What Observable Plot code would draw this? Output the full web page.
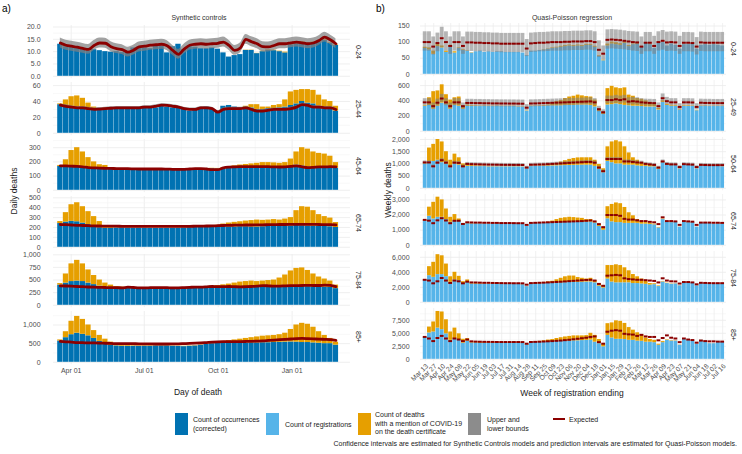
<!DOCTYPE html>
<html><head><meta charset="utf-8">
<script src="https://cdn.jsdelivr.net/npm/d3@7"></script>
<script src="https://cdn.jsdelivr.net/npm/@observablehq/plot@0.6"></script>
<style>
body{margin:0;background:#fff;font-family:"Liberation Sans",Arial,sans-serif;}
#fig{position:relative;width:742px;height:454px;overflow:hidden;background:#fff;}
.t{position:absolute;white-space:nowrap;color:#1a1a1a;}
.sw{position:absolute;}
</style></head><body><div id="fig"></div>
<script>
// ---------- LEFT: Synthetic controls (weekly blocks of daily deaths, from 15 Mar 2020) ----------
const L024occ=[13.0,12.0,11.8,11.5,11.0,10.2,10.8,10.4,10.0,9.8,10.0,9.6,9.4,11.5,11.8,11.5,11.2,12.5,12.2,9.5,12.0,13.0,10.8,12.0,11.8,11.2,11.2,11.5,11.0,9.5,7.8,8.4,8.8,10.5,10.5,9.2,10.0,10.6,10.4,10.0,9.5,12.8,13.2,13.5,13.0,13.5,14.0,14.6,13.5,12.5];
const L024cov=[0,0.2,0.3,0.3,0.2,0.1,0,0,0,0,0,0,0,0,0,0,0,0,0,0,0,0,0,0,0,0,0,0,0,0,0,0,0,0.1,0.1,0.1,0.2,0.2,0.2,0.2,0.3,0.4,0.5,0.5,0.5,0.4,0.4,0.3,0.2,0.2];
const L024exp=[13.5,12.6,12.2,11.8,11.3,10.9,12.5,13.5,13.4,12.0,11.2,10.8,9.8,10.6,11.9,12.2,12.6,12.8,13.0,12.4,10.5,8.9,11.0,12.6,13.0,13.2,13.0,13.2,13.4,13.9,12.5,10.5,11.5,15.0,14.0,13.2,12.0,11.9,12.5,13.2,13.2,13.6,13.9,13.6,13.2,13.5,14.5,15.9,14.8,13.2];
const L024lo=[11.5,10.6,10.2,9.8,9.3,8.9,10.5,11.5,11.4,10.0,9.2,8.8,7.8,8.6,9.9,10.2,10.6,10.8,11.0,10.4,8.5,6.9,9.0,10.6,11.0,11.2,11.0,11.2,11.4,11.9,10.5,8.5,9.5,13.0,12.0,11.2,10.0,9.9,10.5,11.2,11.2,11.6,11.9,11.6,11.2,11.5,12.5,13.9,12.8,11.2];
const L024hi=[15.5,14.6,14.2,13.8,13.3,12.9,14.5,15.5,15.4,14.0,13.2,12.8,11.8,12.6,13.9,14.2,14.6,14.8,15.0,14.4,12.5,10.9,13.0,14.6,15.0,15.2,15.0,15.2,15.4,15.9,14.5,12.5,13.5,17.0,16.0,15.2,14.0,13.9,14.5,15.2,15.2,15.6,15.9,15.6,15.2,15.5,16.5,17.9,16.8,15.2];

const L2544occ=[36,33,32,33,32,31,30,30,31,31,32,32,31,31,32,32,33,32,34,33,32,32,30,28,30,32,33,30,28,34,35,33,32,32,32,30,30,31,31,32,33,35,37,40,38,37,34,33,31,28];
const L2544cov=[1,9,14,14,12,7,3,1,1,0,0,0,0,0,0,0,0,0,0,0,0,0,0,0,0,0,0,0,0,0,0,0,0,2,4,6,3,2,4,4,9,17,17,15,17,17,14,9,9,6];
const L2544exp=[35.5,34,33,32,32,31,30,30.5,31,31.5,32,32,32,32,32,33,33,34,35.5,35,34,33,31,30,30,32,32,31,26.5,30,31,31,31,32,30,28,28,29,30,30,30,31,33,36,35,33,33,32,32,30];
const L2544lo=[33.7,32.2,31.2,30.2,30.2,29.2,28.2,28.7,29.2,29.7,30.2,30.2,30.2,30.2,30.2,31.2,31.2,32.2,33.7,33.2,32.2,31.2,29.2,28.2,28.2,30.2,30.2,29.2,24.7,28.2,29.2,29.2,29.2,30.2,28.2,26.2,26.2,27.2,28.2,28.2,28.2,29.2,31.2,34.2,33.2,31.2,31.2,30.2,30.2,28.2];
const L2544hi=[37.3,35.8,34.8,33.8,33.8,32.8,31.8,32.3,32.8,33.3,33.8,33.8,33.8,33.8,33.8,34.8,34.8,35.8,37.3,36.8,35.8,34.8,32.8,31.8,31.8,33.8,33.8,32.8,28.3,31.8,32.8,32.8,32.8,33.8,31.8,29.8,29.8,30.8,31.8,31.8,31.8,32.8,34.8,37.8,36.8,34.8,34.8,33.8,33.8,31.8];

const L4564occ=[168,170,172,172,168,160,155,150,150,148,146,148,148,148,146,148,148,147,147,145,144,144,145,148,150,148,150,152,150,150,155,156,156,156,158,160,160,158,158,160,162,170,178,172,165,160,158,158,160,155];
const L4564cov=[7,45,108,128,102,70,45,30,25,12,4,2,2,2,2,2,2,2,2,2,2,2,2,2,2,2,2,3,4,8,10,16,22,26,28,30,35,37,35,30,33,50,92,128,125,110,102,97,80,40];
const L4564exp=[172,172,170,168,165,160,158,156,155,154,153,152,152,151,150,150,150,150,150,149,148,147,148,150,152,153,150,145,145,158,163,165,166,166,167,167,167,166,165,164,165,168,172,165,160,162,165,165,166,165];

const L6574occ=[240,255,262,258,245,230,212,198,192,192,195,195,193,192,192,192,190,190,190,190,192,192,195,198,200,200,205,205,208,210,205,205,208,208,205,205,208,210,212,210,212,215,220,218,215,212,210,212,208,200];
const L6574cov=[20,95,168,192,165,130,98,62,23,8,3,3,3,3,3,3,3,3,3,3,3,3,3,3,3,5,5,10,14,25,40,47,50,57,65,70,64,65,68,65,73,85,150,192,190,158,120,98,87,50];
const L6574exp=[230,228,225,222,220,218,216,215,214,213,213,212,212,212,211,211,211,211,211,211,211,211,212,212,213,214,215,216,218,220,222,223,224,225,225,226,227,228,229,230,230,231,232,232,232,231,230,229,228,226];

const L7584occ=[400,440,470,480,470,440,410,380,360,350,345,345,340,340,338,338,335,335,335,338,338,335,340,345,350,352,355,360,365,365,362,360,360,358,355,355,360,360,365,368,370,375,380,375,370,365,362,360,355,330];
const L7584cov=[30,180,350,410,350,260,180,120,80,50,25,15,5,5,5,5,5,5,5,5,5,5,5,5,5,8,15,20,25,40,58,80,100,112,125,115,120,130,135,172,230,305,350,365,320,255,198,160,125,70];
const L7584exp=[385,382,378,372,368,362,358,355,352,350,350,345,358,352,345,345,348,350,350,348,345,345,350,355,360,360,365,372,368,370,372,368,365,368,372,378,390,385,378,380,385,388,390,392,395,392,392,400,395,370];

const L85occ=[570,660,740,780,750,710,640,560,490,450,440,430,430,430,425,430,430,440,440,440,430,425,420,430,440,460,480,500,510,510,505,505,510,515,520,520,525,525,530,535,540,545,540,530,530,520,510,500,500,460];
const L85cov=[30,160,360,450,400,290,210,160,130,90,40,30,20,15,15,15,15,10,10,10,10,10,10,10,10,10,10,20,30,50,75,95,110,125,140,160,175,185,190,205,240,335,460,515,490,420,310,220,140,80];
const L85exp=[560,550,540,530,525,520,518,515,510,505,500,500,500,498,495,495,492,490,490,490,492,495,500,505,512,520,530,540,548,552,552,553,555,558,562,568,575,585,595,605,615,625,635,640,635,628,620,615,608,590];

// ---------- RIGHT: Quasi-Poisson (weekly registrations, week ending 13 Mar 2020 .. 16 Jul 2021) ----------
const weekLabels=["Mar 13","Mar 27","Apr 10","Apr 24","May 08","May 22","Jun 05","Jun 19","Jul 03","Jul 17","Jul 31","Aug 14","Aug 28","Sep 11","Sep 25","Oct 09","Oct 23","Nov 06","Nov 20","Dec 04","Dec 18","Jan 01","Jan 15","Jan 29","Feb 12","Feb 26","Mar 12","Mar 26","Apr 09","Apr 23","May 07","May 21","Jun 04","Jun 18","Jul 02","Jul 16"];

const R024reg=[80,76,62,86,82,68,84,66,80,74,72,66,70,72,68,70,68,70,70,68,68,68,68,66,58,72,72,74,76,78,80,82,84,86,88,86,88,86,90,90,84,56,42,88,94,92,90,96,86,92,94,84,96,92,80,96,98,88,94,90,78,92,92,94,78,90,92,90,92,90,88];
const R024cov=[4,6,10,8,6,4,6,4,2,2,1,1,0,0,0,0,0,0,0,0,0,0,0,0,0,0,0,0,1,1,2,2,3,3,3,3,3,3,3,3,3,2,2,6,6,6,5,4,3,2,2,1,1,1,0,0,0,0,0,0,0,0,0,0,0,0,0,0,0,0,0];
const R024exp=[100,100,86,97,112,100,88,100,100,88,99,99,98,98,97,97,96,96,95,95,95,95,95,95,80,96,97,98,98,99,100,100,100,101,101,102,102,102,103,103,100,76,64,107,108,107,106,104,102,100,99,86,98,98,88,100,104,99,100,99,88,98,98,97,86,99,98,98,98,98,98];
const R024lo=[72,72,60,70,82,72,62,72,72,62,71,71,70,70,69,69,68,68,67,67,67,67,67,67,55,68,69,70,70,71,72,72,72,73,73,74,74,74,75,75,72,52,44,78,79,78,77,76,74,72,71,62,70,70,62,72,75,71,72,71,62,70,70,69,60,71,70,70,70,70,70];
const R024hi=[132,132,116,128,146,132,116,132,132,116,131,131,130,130,129,129,128,128,127,127,127,127,127,127,108,128,129,130,130,131,132,132,132,133,133,134,134,134,135,135,132,104,88,138,139,138,137,135,133,132,131,116,130,130,118,132,136,131,132,131,118,130,130,129,114,131,130,130,130,130,130];

const R2549reg=[330,340,290,330,370,350,290,340,330,290,330,330,325,325,330,325,325,330,325,325,325,325,320,320,265,325,330,330,330,335,335,335,335,340,340,340,345,345,345,340,320,260,220,345,350,360,350,340,335,330,330,325,320,320,320,280,380,340,330,330,280,330,330,330,270,330,330,325,325,325,325];
const R2549cov=[10,100,230,200,240,130,120,100,120,30,15,10,8,5,5,5,4,4,4,4,4,4,4,4,4,5,5,6,8,10,40,55,70,90,110,120,130,120,110,110,90,30,30,215,240,210,210,230,140,130,100,95,80,60,40,20,20,15,12,10,8,8,8,6,5,5,5,4,4,4,4];
const R2549exp=[380,380,330,375,430,380,330,380,380,330,372,372,370,370,368,368,366,366,365,365,364,364,363,362,310,365,366,368,370,372,374,376,378,380,382,384,386,388,390,392,380,290,250,410,410,420,410,420,390,395,390,380,375,372,370,330,434,395,380,380,320,380,380,378,320,375,372,372,370,370,370];
const R2549lo=[335,335,290,330,380,335,290,335,335,290,328,328,326,326,324,324,322,322,321,321,320,320,319,318,272,321,322,324,326,328,330,332,334,336,338,340,342,344,346,348,335,255,220,362,362,370,362,370,344,348,344,335,330,328,326,290,384,348,335,335,282,335,335,333,282,330,328,328,326,326,326];
const R2549hi=[428,428,372,422,484,428,372,428,428,372,420,420,418,418,416,416,414,414,413,413,412,412,411,410,350,413,414,416,418,420,422,424,426,428,430,432,434,436,438,440,428,328,282,462,462,472,462,472,440,445,440,428,422,420,418,372,490,445,428,428,362,428,428,426,362,422,420,420,418,418,418];

const R5064reg=[1000,1100,1100,1150,1050,1000,850,1000,950,850,900,900,890,890,890,880,880,880,880,880,880,880,880,870,800,890,900,900,905,910,915,920,925,930,935,940,945,950,950,950,900,780,640,1100,1050,1000,1000,950,950,950,920,900,900,880,880,780,1050,950,930,950,800,950,950,930,800,920,920,900,900,900,880];
const R5064cov=[30,550,700,850,850,500,300,400,300,150,60,40,30,25,20,15,12,10,10,10,10,10,10,10,8,10,12,15,20,30,60,100,150,200,250,280,300,300,300,300,250,200,160,600,850,950,900,750,500,300,230,150,100,70,50,30,30,20,15,15,10,10,10,10,8,8,8,6,6,6,6];
const R5064exp=[1060,1060,900,1050,1150,1050,900,1050,1040,900,1000,990,985,980,975,970,968,965,962,960,960,958,958,955,850,965,970,975,980,990,1000,1010,1020,1030,1040,1050,1060,1070,1080,1080,1050,850,700,1200,1200,1200,1200,1100,1100,1080,1060,1050,1000,980,960,850,1100,1000,980,980,870,990,980,970,870,960,955,950,950,950,950];
const R5064lo=[1000,1000,845,990,1085,990,845,990,980,845,940,930,925,920,915,910,908,905,902,900,900,898,898,895,795,905,910,915,920,930,940,950,960,970,980,990,1000,1010,1020,1020,990,795,650,1135,1135,1135,1135,1040,1040,1020,1000,990,940,920,900,795,1040,940,920,920,815,930,920,910,815,900,895,890,890,890,890];
const R5064hi=[1120,1120,955,1110,1215,1110,955,1110,1100,955,1060,1050,1045,1040,1035,1030,1028,1025,1022,1020,1020,1018,1018,1015,905,1025,1030,1035,1040,1050,1060,1070,1080,1090,1100,1110,1120,1130,1140,1140,1110,905,750,1265,1265,1265,1265,1160,1160,1140,1120,1110,1060,1040,1020,905,1160,1060,1040,1040,925,1050,1040,1030,925,1020,1015,1010,1010,1010,1010];

const R6574reg=[1590,1920,1740,1850,1850,1700,1520,1630,1600,1370,1430,1420,1420,1410,1410,1400,1400,1400,1400,1400,1400,1400,1400,1390,1250,1420,1440,1450,1460,1470,1480,1490,1500,1500,1510,1520,1520,1530,1540,1540,1480,1250,1000,1750,1550,1500,1500,1450,1450,1450,1450,1400,1400,1380,1350,1150,1700,1550,1500,1550,1200,1550,1500,1500,1200,1450,1450,1450,1400,1420,1400];
const R6574cov=[20,600,1100,1330,1150,700,330,400,140,40,30,20,15,10,10,10,8,8,8,8,8,8,8,8,6,10,15,20,30,50,120,210,280,320,340,310,280,250,160,160,60,100,150,800,1150,1300,1250,1050,700,500,250,200,100,60,40,30,30,20,15,15,10,10,10,8,6,6,6,5,5,5,5];
const R6574exp=[1680,1630,1460,1650,1790,1640,1460,1620,1620,1410,1520,1510,1500,1500,1490,1490,1480,1480,1470,1470,1470,1465,1460,1460,1350,1480,1490,1500,1510,1520,1530,1540,1550,1560,1570,1580,1590,1600,1620,1640,1580,1400,1200,2000,2000,2000,1950,1750,1700,1700,1650,1600,1600,1550,1520,1400,1850,1600,1600,1580,1350,1600,1580,1560,1350,1500,1500,1500,1490,1490,1480];

const R7584reg=[2980,3550,3330,3690,3690,3420,2660,2980,2890,2440,2750,2450,2420,2400,2400,2380,2380,2380,2370,2370,2380,2380,2380,2350,2090,2420,2450,2480,2500,2520,2550,2570,2600,2620,2650,2650,2660,2680,2700,2700,2600,2150,1900,3100,2700,2600,2600,2600,2600,2500,2500,2450,2400,2300,2350,2100,2700,2500,2400,2450,2200,2650,2600,2600,2200,2500,2450,2450,2400,2400,2400];
const R7584cov=[30,1200,2000,2660,2510,1680,740,1020,570,310,230,120,80,60,50,40,40,30,30,30,30,30,30,30,20,40,60,100,150,200,250,430,600,780,850,850,640,520,400,500,300,300,300,1800,2200,2400,2300,2000,1600,1200,900,650,400,200,120,80,60,50,40,30,25,20,20,15,15,12,10,10,10,10,10];
const R7584exp=[3000,2900,2530,2800,3240,2900,2580,2900,2800,2530,2750,2650,2640,2620,2600,2600,2580,2570,2560,2550,2550,2540,2540,2530,2350,2560,2580,2600,2620,2650,2680,2710,2740,2780,2820,2860,2900,2940,2980,3000,2900,2450,2200,3550,3600,3650,3600,3200,3100,3050,3000,3000,2950,2900,2850,2650,3200,2900,2800,2780,2500,2700,2700,2650,2400,2600,2580,2560,2550,2550,2550];

const R85reg=[4170,5060,5250,6000,5700,4900,3650,4000,3800,3100,3500,3150,3150,3100,3100,3100,3050,3050,3050,3050,3050,3050,3050,3050,2800,3250,3300,3300,3350,3400,3400,3450,3450,3500,3500,3550,3550,3600,3650,3700,3300,3000,2400,4600,4100,3850,3850,3800,3650,3650,3500,3460,3300,3300,3200,2700,3200,3650,3500,3500,2700,3800,3650,3500,2900,3650,3300,3000,3000,3300,3300];
const R85cov=[0,1140,1930,3200,3400,2700,1600,2000,1100,750,470,250,200,150,120,100,100,80,80,80,80,80,70,60,60,80,100,150,200,300,400,550,700,800,900,950,950,900,900,1300,1300,800,500,2250,2900,3550,3450,3100,2450,1950,1600,1290,800,500,450,200,200,100,80,60,50,40,40,30,30,20,20,20,15,15,15];
const R85exp=[4300,4000,3500,4100,4500,4000,3500,4000,3800,3500,3800,3450,3400,3380,3360,3350,3340,3330,3320,3320,3320,3320,3320,3310,3000,3330,3350,3380,3420,3460,3500,3550,3600,3680,3750,3850,3950,4050,4150,4300,4400,3300,3000,5300,5500,5600,5500,4900,4800,4750,4500,4700,4400,4300,4300,3650,4100,4600,4150,4000,3300,4000,3800,3700,3200,3600,3500,3450,3450,3400,3400];

// ---------- colours ----------
const C_OCC="#0072B2", C_REG="#56B4E9", C_COV="#E69F00", C_BND="#7f7f7f", C_EXP="#8B0000";
const GRID="#ebebeb", GRIDm="#f4f4f4";

const fig=document.getElementById("fig");
function txt(s,x,y,o={}){
  const e=document.createElement("div");e.className="t";e.innerHTML=s;
  e.style.left=x+"px";e.style.top=y+"px";e.style.fontSize=(o.fs||7)+"px";
  if(o.color)e.style.color=o.color;
  const tr=[];
  if(o.anchor==="middle")tr.push("translate(-50%,-50%)");
  else if(o.anchor==="end")tr.push("translate(-100%,-50%)");
  else tr.push("translate(0,-50%)");
  if(o.rot)tr.push(`rotate(${o.rot}deg)`);
  e.style.transform=tr.join(" ");
  if(o.lh)e.style.lineHeight=o.lh+"px";
  fig.appendChild(e);return e;
}
function place(svg,x,y){svg.style.position="absolute";svg.style.left=x+"px";svg.style.top=y+"px";svg.style.overflow="visible";fig.appendChild(svg);}
function minors(ticks,lo,hi){const s=ticks[1]-ticks[0],out=[];for(let v=ticks[0]-s/2;v<=hi;v+=s){if(v>=lo)out.push(v);}return out;}
const plotStyle={background:"transparent",fontFamily:"Liberation Sans, Arial, sans-serif",fontSize:"7px",color:"#4d4d4d",overflow:"visible"};

// ---------- left panels ----------
const DAY=86400000,T0=Date.UTC(2020,2,15);
const dd=n=>new Date(T0+n*DAY);
const majorX=[new Date(Date.UTC(2020,3,1)),new Date(Date.UTC(2020,6,1)),new Date(Date.UTC(2020,9,1)),new Date(Date.UTC(2021,0,1))];
const minorX=[...d3.pairs(majorX).map(([a,b])=>new Date((+a + +b)/2)),new Date(+majorX[3]+(+majorX[3]-majorX[2])/2)];
const PH_TOP=50.8,PH_BOT=2.4;

const leftDefs=[
 {lab:"0-24",occ:L024occ,cov:L024cov,exp:L024exp,lo:L024lo,hi:L024hi,zero:76,k:2.465,ticks:[0,5,10,15,20],fmt:d3.format(".1f")},
 {lab:"25-44",occ:L2544occ,cov:L2544cov,exp:L2544exp,lo:L2544lo,hi:L2544hi,zero:132.7,k:0.795,ticks:[0,20,40,60],fmt:d3.format(",")},
 {lab:"45-64",occ:L4564occ,cov:L4564cov,exp:L4564exp,zero:190,k:0.142,ticks:[0,100,200,300],fmt:d3.format(",")},
 {lab:"65-74",occ:L6574occ,cov:L6574cov,exp:L6574exp,zero:246.7,k:0.099,ticks:[0,100,200,300,400,500],fmt:d3.format(",")},
 {lab:"75-84",occ:L7584occ,cov:L7584cov,exp:L7584exp,zero:304.3,k:0.0505,ticks:[0,250,500,750,1000],fmt:d3.format(",")},
 {lab:"85+",occ:L85occ,cov:L85cov,exp:L85exp,zero:361.3,k:0.0373,ticks:[0,500,1000],fmt:d3.format(",")}
];
leftDefs.forEach((p,i)=>{
  const last=i===leftDefs.length-1, mB=last?14:0;
  const dom=[-PH_BOT/p.k,PH_TOP/p.k];
  const rows=p.occ.map((v,w)=>({x1:dd(7*w+0.2),x2:dd(7*w+6.8),xc:dd(7*w+3.5),occ:v,top:v+p.cov[w],exp:p.exp[w],lo:p.lo?p.lo[w]:null,hi:p.hi?p.hi[w]:null}));
  const marks=[
    Plot.ruleX(minorX,{stroke:GRIDm,strokeWidth:0.6}),
    Plot.ruleX(majorX,{stroke:GRID,strokeWidth:0.8}),
    Plot.ruleY(minors(p.ticks,dom[0],dom[1]),{stroke:GRIDm,strokeWidth:0.6}),
    Plot.ruleY(p.ticks,{stroke:GRID,strokeWidth:0.8}),
    Plot.rect(rows,{x1:"x1",x2:"x2",y1:0,y2:"occ",fill:C_OCC}),
    Plot.rect(rows,{x1:"x1",x2:"x2",y1:"occ",y2:"top",fill:C_COV}),
    p.lo?Plot.areaY(rows,{x:"xc",y1:"lo",y2:"hi",fill:C_BND,fillOpacity:0.72,curve:"monotone-x"}):null,
    Plot.lineY(rows,{x:"xc",y:"exp",stroke:C_EXP,strokeWidth:2.8,curve:"monotone-x"}),
    Plot.axisY({ticks:p.ticks,tickFormat:p.fmt,tickSize:0,tickPadding:13,label:null,fontSize:7})
  ];
  if(last)marks.push(Plot.axisX({ticks:majorX,tickFormat:d3.utcFormat("%b %d"),tickSize:0,tickPadding:3,label:null,fontSize:7}));
  const svg=Plot.plot({width:352,height:PH_TOP+PH_BOT+mB,marginLeft:53,marginRight:2,marginTop:0,marginBottom:mB,
    x:{type:"utc",domain:[dd(-5),dd(364.6)],axis:null},y:{domain:dom,axis:null},style:plotStyle,marks});
  place(svg,0,p.zero-PH_TOP);
  txt(p.lab,358,p.zero-24.2,{anchor:"middle",rot:90,fs:7,color:"#1a1a1a"});
});

// ---------- right panels ----------
const evenIdx=d3.range(0,71,2);
const rightDefs=[
 {lab:"0-24",reg:R024reg,cov:R024cov,exp:R024exp,lo:R024lo,hi:R024hi,zero:73.3,k:0.322,ticks:[0,50,100,150]},
 {lab:"25-49",reg:R2549reg,cov:R2549cov,exp:R2549exp,lo:R2549lo,hi:R2549hi,zero:130.7,k:0.0762,ticks:[0,200,400,600]},
 {lab:"50-64",reg:R5064reg,cov:R5064cov,exp:R5064exp,lo:R5064lo,hi:R5064hi,zero:187.7,k:0.0244,ticks:[0,500,1000,1500,2000]},
 {lab:"65-74",reg:R6574reg,cov:R6574cov,exp:R6574exp,zero:244.7,k:0.01513,ticks:[0,1000,2000,3000]},
 {lab:"75-84",reg:R7584reg,cov:R7584cov,exp:R7584exp,zero:301.7,k:0.0075,ticks:[0,2000,4000,6000]},
 {lab:"85+",reg:R85reg,cov:R85cov,exp:R85exp,zero:359,k:0.0052,ticks:[0,2500,5000,7500]}
];
rightDefs.forEach((p,i)=>{
  const last=i===rightDefs.length-1, mB=last?30:0;
  const dom=[-PH_BOT/p.k,PH_TOP/p.k];
  const rows=p.reg.map((v,j)=>({a:j-0.45,b:j+0.45,reg:v,top:v+p.cov[j],exp:p.exp[j],lo:p.lo?p.lo[j]:null,hi:p.hi?p.hi[j]:null}));
  const marks=[
    Plot.ruleY(minors(p.ticks,dom[0],dom[1]),{stroke:GRIDm,strokeWidth:0.6}),
    Plot.ruleY(p.ticks,{stroke:GRID,strokeWidth:0.8}),
    Plot.ruleX(evenIdx,{stroke:GRID,strokeWidth:0.7}),
    Plot.rect(rows,{x1:"a",x2:"b",y1:0,y2:"reg",fill:C_REG}),
    Plot.rect(rows,{x1:"a",x2:"b",y1:"reg",y2:"top",fill:C_COV}),
    p.lo?Plot.rect(rows,{x1:"a",x2:"b",y1:"lo",y2:"hi",fill:C_BND,fillOpacity:0.58}):null,
    Plot.ruleY(rows,{x1:"a",x2:"b",y:"exp",stroke:C_EXP,strokeWidth:2}),
    Plot.axisY({ticks:p.ticks,tickFormat:d3.format(","),tickSize:0,tickPadding:11,label:null,fontSize:7})
  ];
  if(last)marks.push(Plot.text(evenIdx,{x:d=>d,y:dom[0],text:j=>weekLabels[j/2],rotate:-45,textAnchor:"end",lineAnchor:"top",dx:0,dy:1.5,fontSize:6.8,fill:"#4d4d4d"}));
  const svg=Plot.plot({width:362,height:PH_TOP+PH_BOT+mB,marginLeft:50,marginRight:6,marginTop:0,marginBottom:mB,
    x:{domain:[-1.1,70.9],axis:null},y:{domain:dom,axis:null},style:plotStyle,marks});
  place(svg,370,p.zero-PH_TOP);
  txt(p.lab,733,p.zero-24.2,{anchor:"middle",rot:90,fs:7,color:"#1a1a1a"});
});

// ---------- titles / axis titles ----------
txt("a)",2,8,{fs:10,color:"#000"});
txt("b)",376,8,{fs:10,color:"#000"});
txt("Synthetic controls",199,16.5,{anchor:"middle",fs:7,color:"#333"});
txt("Quasi-Poisson regression",572,16.5,{anchor:"middle",fs:7,color:"#333"});
txt("Daily deaths",14,191,{anchor:"middle",rot:-90,fs:8.5,color:"#1a1a1a"});
txt("Weekly deaths",388,190,{anchor:"middle",rot:-90,fs:8.5,color:"#1a1a1a"});
txt("Day of death",198,392,{anchor:"middle",fs:8.5,color:"#1a1a1a"});
txt("Week of registration ending",572,393,{anchor:"middle",fs:8.5,color:"#1a1a1a"});

// ---------- legend ----------
function sw(x,y,w,h,c,op){const e=document.createElement("div");e.className="sw";Object.assign(e.style,{left:x+"px",top:y+"px",width:w+"px",height:h+"px",background:c,opacity:op||1});fig.appendChild(e);}
sw(175,413,13,22,C_OCC);
txt("Count of occurrences<br>(corrected)",193,424,{fs:7,lh:8.5});
sw(266,413,13,22,C_REG);
txt("Count of registrations",285,424,{fs:7});
sw(358,413,13,22,C_COV);
txt("Count of deaths<br>with a mention of COVID-19<br>on the death certificate",375,424,{fs:7,lh:8.5});
sw(468,413,13,22,C_BND,0.9);
txt("Upper and<br>lower bounds",487,424,{fs:7,lh:8.5});
sw(553,418,12,2.2,C_EXP);
txt("Expected",569,419,{fs:7});
txt("Confidence intervals are estimated for Synthetic Controls models and prediction intervals are estimated for Quasi-Poisson models.",737,443,{anchor:"end",fs:7});
</script></body></html>
